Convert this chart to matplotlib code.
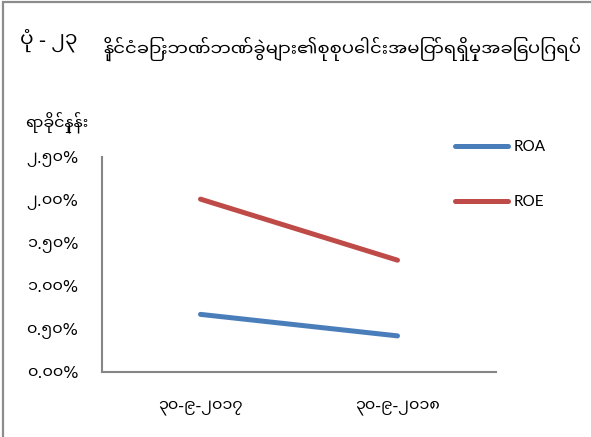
import matplotlib
matplotlib.use("Agg")
import matplotlib.pyplot as plt
from matplotlib.patches import Rectangle

categories = ["၃၀-၉-၂၀၁၇", "၃၀-၉-၂၀၁၈"]
roa = [0.67, 0.42]
roe = [2.01, 1.30]
yticks = [0.0, 0.5, 1.0, 1.5, 2.0, 2.5]
ytick_labels = ["၀.၀၀%", "၀.၅၀%", "၁.၀၀%", "၁.၅၀%", "၂.၀၀%", "၂.၅၀%"]
fig_label = "ပုံ - ၂၃"
title = "နိုင်ငံခြားဘဏ်ဘဏ်ခွဲများ၏စုစုပေါင်းအမြတ်ရရှိမှုအခြေပြဂရပ်"
ylabel = "ရာခိုင်နှုန်း"

MY = ["Noto Sans Myanmar UI", "DejaVu Sans"]
W, H = 591, 437

fig = plt.figure(figsize=(W / 100, H / 100), dpi=100)
fig.patch.set_facecolor("white")
# outer chart border (left and top visible)
fig.patches.append(Rectangle((3 / W, -0.05), 1.2, 1 - 2 / H + 0.05, transform=fig.transFigure,
                             fill=False, edgecolor="#8c8c8c", linewidth=1.6))

ax = fig.add_axes([102 / W, 1 - 372 / H, (496 - 102) / W, (372 - 157) / H])
x = list(range(len(categories)))
ax.plot(x, roa, color="#4a7ebb", lw=3.6, solid_capstyle="round", label="ROA")
ax.plot(x, roe, color="#be4b48", lw=3.6, solid_capstyle="round", label="ROE")

ax.set_xlim(-0.5, len(categories) - 0.5)
ax.set_ylim(0, 2.5)
ax.set_xticks(x)
ax.set_xticklabels(categories, family=MY, fontsize=11.5)
ax.set_yticks(yticks)
ax.set_yticklabels(ytick_labels, family=MY, fontsize=11.5)
ax.tick_params(axis="both", length=0)
ax.tick_params(axis="y", pad=17)
ax.tick_params(axis="x", pad=20)
for s in ["top", "right"]:
    ax.spines[s].set_visible(False)
for s in ["left", "bottom"]:
    ax.spines[s].set_color("#868686")
    ax.spines[s].set_linewidth(1.5)

leg = ax.legend(loc="upper left", bbox_to_anchor=(455 / W, 1 - 140 / H), bbox_transform=fig.transFigure,
                frameon=False, borderpad=0, borderaxespad=0, handlelength=3.5, handletextpad=0.35,
                labelspacing=2.7, prop={"family": "Lato", "size": 11})

fig.text(20 / W, 1 - 40 / H, fig_label, family=MY, fontsize=14.5, va="center", ha="left")
fig.text(103 / W, 1 - 49 / H, title, family=MY, fontsize=13.0, va="center", ha="left")
fig.text(25 / W, 1 - 123 / H, ylabel, family=MY, fontsize=11.5, va="center", ha="left")

fig.savefig("out.png", dpi=100)
